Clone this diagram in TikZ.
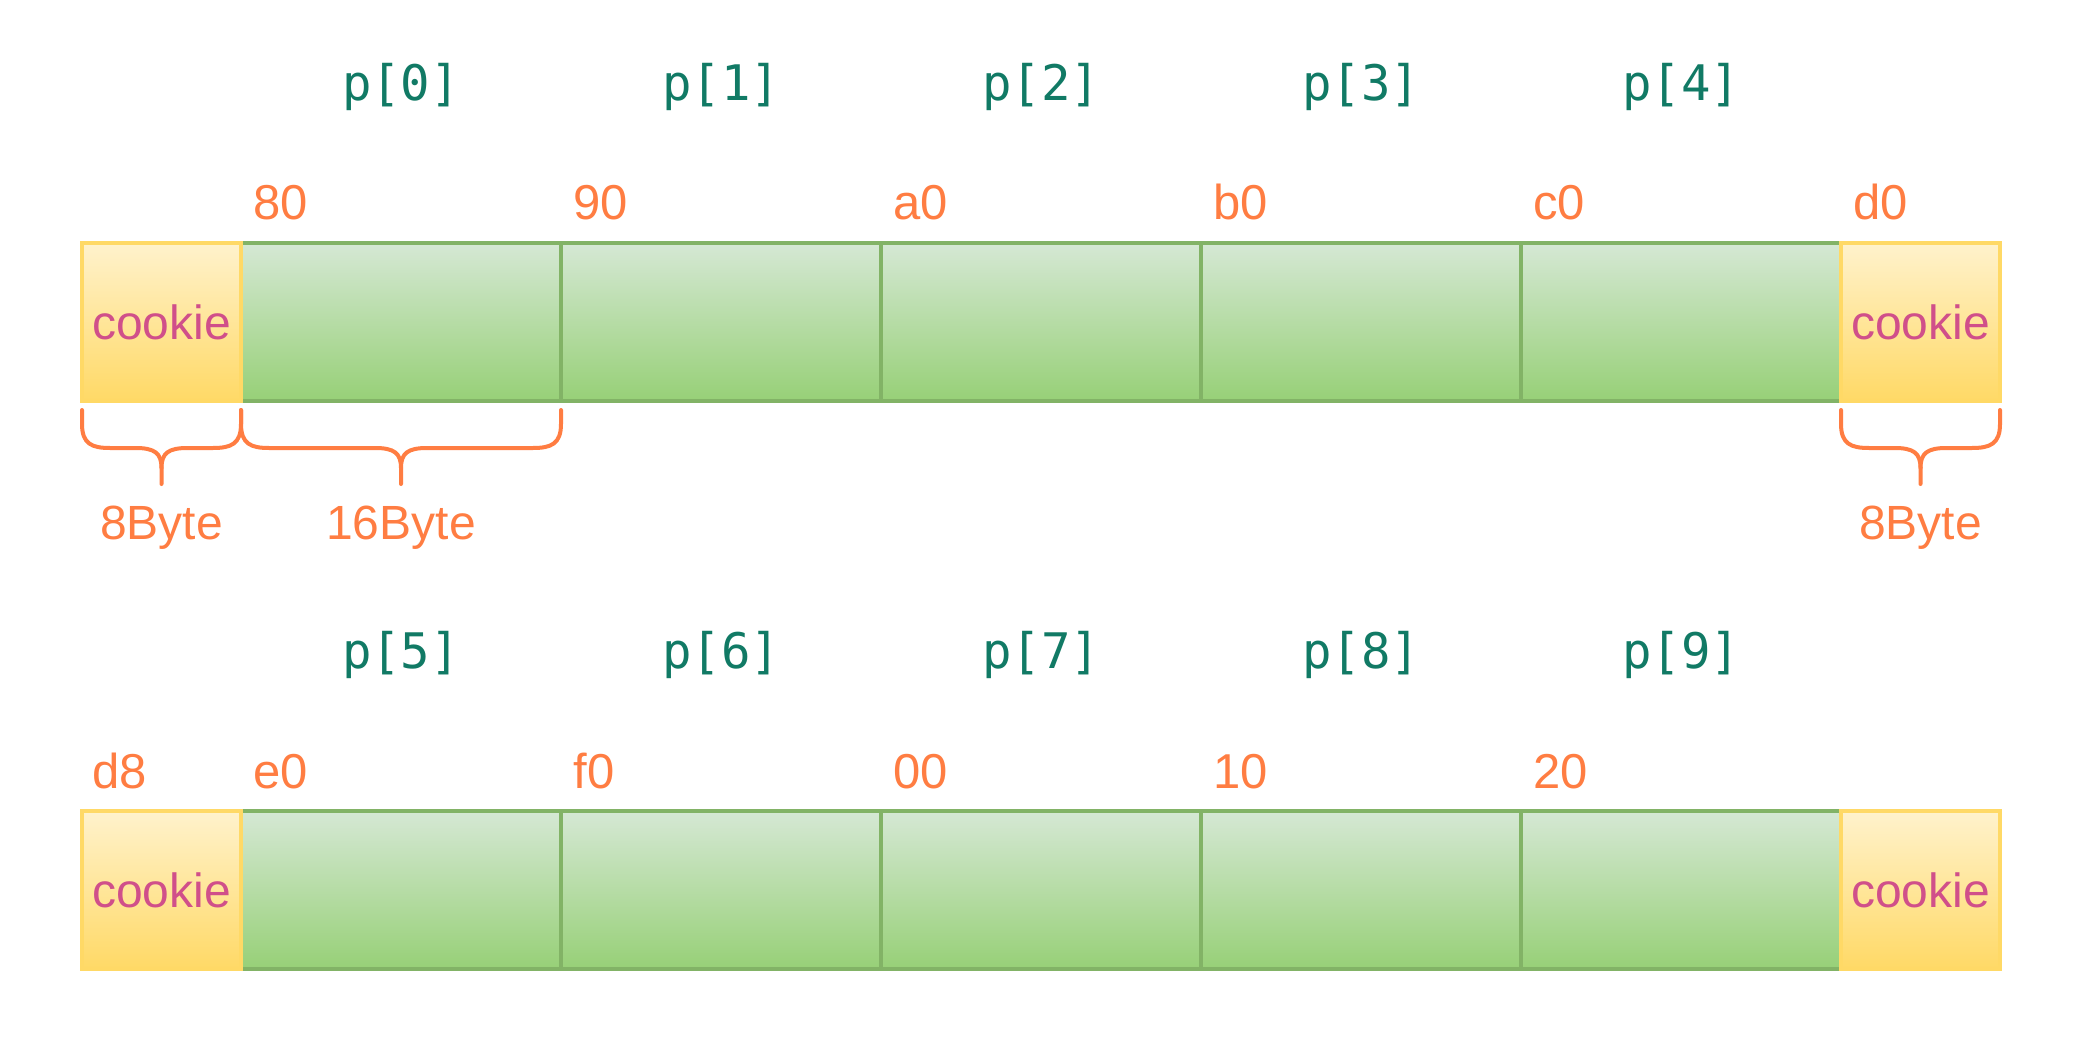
\documentclass[tikz,border=0pt]{standalone}
\usepackage{fontspec}
\setmainfont{Liberation Sans}
\newfontfamily\monof{DejaVu Sans Mono}
\definecolor{orng}{RGB}{255,125,66}
\definecolor{teal2}{RGB}{17,122,101}
\definecolor{pinkc}{RGB}{208,79,138}
\definecolor{gtop}{HTML}{D5E8D4}
\definecolor{gbot}{HTML}{97D077}
\definecolor{gline}{HTML}{82B366}
\definecolor{ytop}{HTML}{FFF2CC}
\definecolor{ybot}{HTML}{FFD966}
\begin{document}
\begin{tikzpicture}[x=0.5pt,y=-0.5pt,
  cell/.style={draw=gline,line width=2pt,top color=gtop,bottom color=gbot,
    minimum width=160pt,minimum height=79pt,inner sep=0pt,outer sep=0pt},
  cookiebox/.style={draw=ybot,line width=2pt,top color=ytop,bottom color=ybot,
    minimum width=79.5pt,minimum height=79pt,inner sep=0pt,outer sep=0pt,
    text=pinkc,font=\fontsize{24}{28}\selectfont},
  addr/.style={anchor=base west,inner sep=0pt,text=orng,font=\fontsize{24.5}{28}\selectfont},
  plabel/.style={anchor=center,inner sep=0pt,text=teal2,font=\monof\fontsize{24.5}{28}\selectfont},
  bytelabel/.style={anchor=base,inner sep=0pt,text=orng,font=\fontsize{24}{28}\selectfont},
  bracestyle/.style={draw=orng,line width=2pt,line cap=round,line join=round}]
\newcommand\mybrace[2]{%
  \pgfmathsetmacro\xm{(#1+#2)/2}%
  \draw[bracestyle] (#1,410) -- (#1,424) .. controls (#1,444) and (#1+10,448) .. (#1+28,448)
     -- (\xm-26,448) .. controls (\xm-7,448) and (\xm,453) .. (\xm,468) -- (\xm,484);
  \draw[bracestyle] (#2,410) -- (#2,424) .. controls (#2,444) and (#2-10,448) .. (#2-28,448)
     -- (\xm+26,448) .. controls (\xm+7,448) and (\xm,453) .. (\xm,468);
}
\fill[white] (0,0) rectangle (2088,1048);
% ---------- row 1 ----------
\foreach \i/\x in {0/401,1/721,2/1041,3/1361,4/1681}{
  \node[cell] (a\i) at (\x,322) {};
  \node[plabel] (pa\i) at (\x,87) {p[\i]};
}
\node[cookiebox] (ka) at (161.5,322) {cookie};
\node[cookiebox] (kb) at (1920.5,322) {cookie};
\foreach \n/\x in {80/241,90/561,a0/881,b0/1201,c0/1521,d0/1841}{
  \node[addr] (ad\n) at (\x+12,220) {\n};
}
\mybrace{82}{241}
\mybrace{241}{561}
\mybrace{1841}{2000}
\node[bytelabel] (by1) at (161.5,539) {8Byte};
\node[bytelabel] (by2) at (401,539) {16Byte};
\node[bytelabel] (by3) at (1920.5,539) {8Byte};
% ---------- row 2 ----------
\foreach \i/\j/\x in {0/5/401,1/6/721,2/7/1041,3/8/1361,4/9/1681}{
  \node[cell] (b\i) at (\x,890) {};
  \node[plabel] (pb\i) at (\x,655) {p[\j]};
}
\node[cookiebox] (kc) at (161.5,890) {cookie};
\node[cookiebox] (kd) at (1920.5,890) {cookie};
\foreach \n/\x in {d8/80,e0/241,f0/561,00/881,10/1201,20/1521}{
  \node[addr] (bd\n) at (\x+12,788) {\n};
}
\end{tikzpicture}
\end{document}
